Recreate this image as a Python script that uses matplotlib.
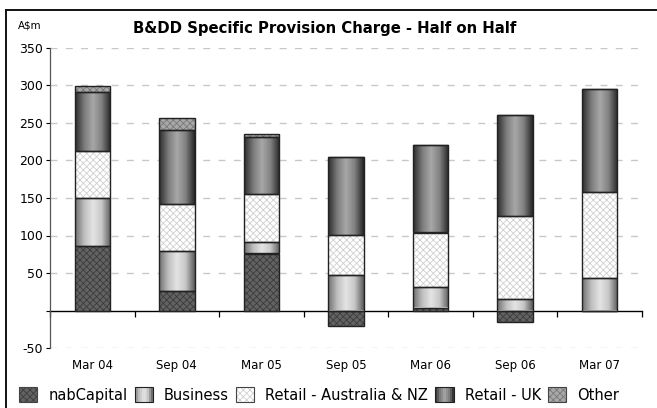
import numpy as np
import matplotlib
matplotlib.use("Agg")
import matplotlib.pyplot as plt
from matplotlib.patches import Rectangle
from matplotlib.lines import Line2D
from matplotlib.colors import LinearSegmentedColormap
from matplotlib.legend_handler import HandlerBase

# data (A$m)
periods = ["Mar 04", "Sep 04", "Mar 05", "Sep 05", "Mar 06", "Sep 06", "Mar 07"]
nab_capital = [86, 26, 76, -20, 4, -15, -1]
business = [64, 53, 15, 47, 27, 15, 43]
retail_aus_nz = [62, 63, 64, 54, 73, 111, 115]
retail_uk = [79, 99, 76, 103, 117, 135, 137]
other = [8, 16, 4, 1, 0, 0, 0]

series_names = ["nabCapital", "Business", "Retail - Australia & NZ", "Retail - UK", "Other"]
y_ticks = [350, 300, 250, 200, 150, 100, 50, 0, -50]

# look of each series: (face, hatch colour or None, gradient cmap or None)
cm_bus = LinearSegmentedColormap.from_list("bus", ["#707070", "#bebebe", "#e4e4e4", "#c6c6c6", "#5c5c5c"])
cm_uk = LinearSegmentedColormap.from_list("uk", ["#2c2c2c", "#7a7a7a", "#a8a8a8", "#808080", "#262626"])
styles = [
    ("#626262", "#3c3c3c", None),
    (None, None, cm_bus),
    ("#ffffff", "#cfcfcf", None),
    (None, None, cm_uk),
    ("#a8a8a8", "#787878", None),
]

plt.rcParams['hatch.linewidth'] = 0.6
plt.rcParams['font.family'] = ['DejaVu Sans']
fig = plt.figure(figsize=(6.57, 4.08), dpi=100)
ax = fig.add_axes([50 / 657, 1 - 348 / 408, 592 / 657, 300 / 408])

x = np.arange(len(periods))
width = 0.42
data = [nab_capital, business, retail_aus_nz, retail_uk, other]
pos_base = np.zeros(len(periods))
neg_base = np.zeros(len(periods))
grad = np.linspace(0, 1, 64).reshape(1, -1)

for vals, (face, hcol, cmap) in zip(data, styles):
    vals = np.array(vals, dtype=float)
    bottoms = np.where(vals >= 0, pos_base, neg_base)
    if cmap is None:
        ax.bar(x, vals, width, bottom=bottoms, color=face, edgecolor=hcol,
               hatch="xxxxx", linewidth=0, zorder=2)
        ax.bar(x, vals, width, bottom=bottoms, fill=False, edgecolor="#222222",
               linewidth=1.0, zorder=3)
    else:
        bars = ax.bar(x, vals, width, bottom=bottoms, fill=False, edgecolor="#222222",
                      linewidth=1.0, zorder=3)
        for b in bars:
            if b.get_height() == 0:
                continue
            x0, y0 = b.get_x(), b.get_y()
            im = ax.imshow(grad, cmap=cmap, aspect="auto", zorder=2,
                           extent=[x0, x0 + b.get_width(), y0, y0 + b.get_height()])
            im.set_clip_path(b)
    pos_base += np.where(vals >= 0, vals, 0)
    neg_base += np.where(vals < 0, vals, 0)

ax.set_xlim(-0.5, len(periods) - 0.5)
ax.set_ylim(-50, 350)
ax.set_yticks(y_ticks)
ax.set_yticklabels([str(v) if v != 0 else "" for v in y_ticks], fontsize=9)
ax.tick_params(axis="y", length=3, width=0.8, pad=2)
for v in y_ticks:
    if v != 0:
        ax.axhline(v, color="#c8c8c8", linewidth=1.0, dashes=(5, 6), zorder=0)
ax.set_xticks(x)
ax.set_xticklabels(periods, fontsize=8.5)
ax.tick_params(axis="x", length=0, pad=8)
for s in ["top", "right", "bottom"]:
    ax.spines[s].set_visible(False)
ax.spines["left"].set_color("#555555")
ax.spines["left"].set_linewidth(0.9)

# zero line with category separator ticks
zero_ax = ax.secondary_xaxis(50 / 400)
zero_ax.set_xticks(np.arange(len(periods) + 1) - 0.5)
zero_ax.set_xticklabels([])
zero_ax.tick_params(length=4, width=0.9, direction="out")
zero_ax.spines["bottom"].set_linewidth(1.0)
ax.set_zorder(1)

fig.text(325 / 657, 1 - 28 / 408, "B&DD Specific Provision Charge - Half on Half",
         ha="center", va="center", fontsize=10.7, fontweight="bold")
fig.text(18 / 657, 1 - 26 / 408, "A$m", ha="left", va="center", fontsize=7.4)

# border of the chart area (left and top edges only are visible)
fig.add_artist(Line2D([6 / 657, 6 / 657], [0, 1 - 10 / 408], transform=fig.transFigure,
                      color="#111111", linewidth=1.4))
fig.add_artist(Line2D([6 / 657, 1], [1 - 10 / 408, 1 - 10 / 408], transform=fig.transFigure,
                      color="#111111", linewidth=1.4))


class GradHandler(HandlerBase):
    def __init__(self, cmap):
        super().__init__()
        self.cmap = cmap

    def create_artists(self, legend, orig_handle, xdescent, ydescent, width, height, fontsize, trans):
        arts = []
        n = 10
        for i in range(n):
            arts.append(Rectangle((-xdescent + width * i / n, -ydescent), width / n + 0.3, height,
                                  facecolor=self.cmap((i + 0.5) / n), edgecolor="none", transform=trans))
        arts.append(Rectangle((-xdescent, -ydescent), width, height, fill=False,
                              edgecolor="#222222", linewidth=0.8, transform=trans))
        return arts


class HatchHandler(HandlerBase):
    def create_artists(self, legend, orig_handle, xdescent, ydescent, width, height, fontsize, trans):
        a = Rectangle((-xdescent, -ydescent), width, height, facecolor=orig_handle.get_facecolor(),
                      edgecolor=orig_handle.get_edgecolor(), hatch="xxxxx", linewidth=0, transform=trans)
        b = Rectangle((-xdescent, -ydescent), width, height, fill=False,
                      edgecolor="#444444", linewidth=0.8, transform=trans)
        return [a, b]


handles = []
handler_map = {}
for name, (face, hcol, cmap) in zip(series_names, styles):
    if cmap is None:
        h = Rectangle((0, 0), 1, 1, facecolor=face, edgecolor=hcol)
        handler_map[h] = HatchHandler()
    else:
        h = Rectangle((0, 0), 1, 1)
        handler_map[h] = GradHandler(cmap)
    handles.append(h)

fig.legend(handles, series_names, handler_map=handler_map, loc="center left",
           bbox_to_anchor=(19 / 657, 1 - 395 / 408), ncol=5, frameon=False, fontsize=10.5,
           handlelength=1.25, handleheight=1.2, handletextpad=0.75, columnspacing=0.5,
           borderpad=0, borderaxespad=0)

fig.savefig("out.png", dpi=100)
